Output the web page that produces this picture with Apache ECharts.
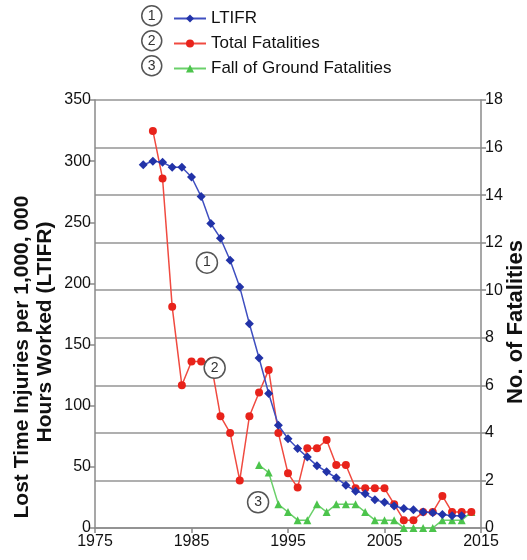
<!DOCTYPE html>
<html>
<head>
<meta charset="utf-8">
<script src="https://cdn.jsdelivr.net/npm/echarts@6/dist/echarts.min.js"></script>
<style>
  html, body { margin: 0; background: #fff; }
  #main { width: 527px; height: 560px; }
</style>
</head>
<body>
<div id="main"></div>
<script>
// LTIFR (left axis), 1980-2013
const ltifrYears = [1980, 1981, 1982, 1983, 1984, 1985, 1986, 1987, 1988, 1989, 1990, 1991, 1992, 1993, 1994, 1995, 1996,
  1997, 1998, 1999, 2000, 2001, 2002, 2003, 2004, 2005, 2006, 2007, 2008, 2009, 2010, 2011, 2012, 2013];
const ltifrValues = [297, 300, 299, 295, 295, 287, 271, 249, 237, 219, 197, 167, 139, 110, 84, 73, 65,
  58, 51, 46, 41, 35, 30, 28, 23, 21, 18, 16, 15, 13, 12.5, 11, 10, 10];

// Total fatalities (right axis), 1981-2014
const totalYears = [1981, 1982, 1983, 1984, 1985, 1986, 1987, 1988, 1989, 1990, 1991, 1992, 1993, 1994, 1995, 1996, 1997,
  1998, 1999, 2000, 2001, 2002, 2003, 2004, 2005, 2006, 2007, 2008, 2009, 2010, 2011, 2012, 2013, 2014];
const totalValues = [16.7, 14.7, 9.3, 6.0, 7.0, 7.0, 7.0, 4.7, 4.0, 2.0, 4.7, 5.7, 6.65, 4.0, 2.3, 1.7, 3.35,
  3.35, 3.7, 2.65, 2.65, 1.67, 1.67, 1.67, 1.67, 1.0, 0.33, 0.33, 0.67, 0.67, 1.35, 0.67, 0.67, 0.67];

// Fall of ground fatalities (right axis), 1992-2014
const fogYears = [1992, 1993, 1994, 1995, 1996, 1997, 1998, 1999, 2000, 2001, 2002, 2003, 2004, 2005, 2006, 2007,
  2008, 2009, 2010, 2011, 2012, 2013, 2014];
const fogValues = [2.65, 2.33, 1.0, 0.67, 0.33, 0.33, 1.0, 0.67, 1.0, 1.0, 1.0, 0.67, 0.33, 0.33, 0.33, 0,
  0, 0, 0, 0.33, 0.33, 0.33, 0.67];

// circled callouts inside the plot: [year, LTIFR value, label]
const callouts = [[1986.6, 217, '1'], [1987.4, 131, '2'], [1991.9, 21, '3']];

const seriesNames = ['LTIFR', 'Total Fatalities', 'Fall of Ground Fatalities'];
const leftTitle = ['Lost Time Injuries per 1,000, 000', 'Hours Worked (LTIFR)'];
const rightTitle = 'No. of Fatalities';

const pairs = (xs, ys) => xs.map((x, i) => [x, ys[i]]);

const chartDom = document.getElementById('main');
const myChart = echarts.init(chartDom);

const font = '"Liberation Sans", Arial, sans-serif';
const axisGrey = '#8a8a8a';

function circleMark(x, y, t) {
  return {
    type: 'group', left: x - 11, top: y - 11,
    children: [
      { type: 'circle', shape: { cx: 11, cy: 11, r: 10 }, style: { fill: '#fff', stroke: '#555', lineWidth: 1.5 } },
      { type: 'text', x: 11, y: 11, style: { text: t, fill: '#333', font: '14px ' + font, align: 'center', verticalAlign: 'middle' } }
    ]
  };
}

// rotated axis titles (read bottom to top on the left, top to bottom on the right)
function sideTitle(text, x, y, rot, size) {
  return {
    type: 'text', x: x, y: y, rotation: rot,
    style: {
      text: text, fill: '#111', font: 'bold ' + size + 'px ' + font,
      align: 'center', verticalAlign: 'middle'
    }
  };
}

const option = {
  animation: false,
  backgroundColor: '#fff',
  textStyle: { fontFamily: font },
  grid: { left: 95, right: 46, top: 100, bottom: 32, outerBoundsMode: 'none', containLabel: false },
  legend: {
    orient: 'vertical',
    left: 168, top: 5,
    itemWidth: 32, itemHeight: 10, itemGap: 8,
    textStyle: { fontSize: 17, color: '#111', fontFamily: font },
    data: seriesNames
  },
  graphic: [
    circleMark(152, 16, '1'), circleMark(152, 41, '2'), circleMark(152, 66, '3'),
    sideTitle(leftTitle[0], 22, 357, Math.PI / 2, 21),
    sideTitle(leftTitle[1], 45, 332, Math.PI / 2, 21),
    sideTitle(rightTitle, 516, 322, Math.PI / 2, 22)
  ],
  xAxis: {
    type: 'value', min: 1975, max: 2015, interval: 10,
    axisLine: { lineStyle: { color: axisGrey, width: 1.5 } },
    axisTick: { show: true, length: 5, lineStyle: { color: axisGrey, width: 1.5 } },
    axisLabel: { color: '#111', fontSize: 16, margin: 6, formatter: v => String(v) },
    splitLine: { show: false }
  },
  yAxis: [
    {
      type: 'value', min: 0, max: 350, interval: 50, position: 'left',
      axisLine: { show: true, lineStyle: { color: axisGrey, width: 1.5 } },
      axisTick: { show: true, length: 5, lineStyle: { color: axisGrey, width: 1.5 } },
      axisLabel: { color: '#111', fontSize: 16, margin: 4 },
      splitLine: { show: false }
    },
    {
      type: 'value', min: 0, max: 18, interval: 2, position: 'right',
      axisLine: { show: true, lineStyle: { color: axisGrey, width: 1.5 } },
      axisTick: { show: true, length: 5, lineStyle: { color: axisGrey, width: 1.5 } },
      axisLabel: { color: '#111', fontSize: 16, margin: 4 },
      splitLine: { show: true, lineStyle: { color: '#949494', width: 1.5 } }
    }
  ],
  series: [
    {
      name: seriesNames[0], type: 'line', yAxisIndex: 0,
      data: pairs(ltifrYears, ltifrValues),
      symbol: 'diamond', symbolSize: 9,
      lineStyle: { color: '#3f4fc0', width: 1.5 },
      itemStyle: { color: '#2233a8' },
      z: 4,
      markPoint: {
        symbol: 'circle', symbolSize: 21,
        itemStyle: { color: '#fff', borderColor: '#555', borderWidth: 1.5 },
        label: { show: true, color: '#333', fontSize: 14, formatter: p => p.name },
        data: callouts.map(c => ({ name: c[2], coord: [c[0], c[1]] }))
      }
    },
    {
      name: seriesNames[1], type: 'line', yAxisIndex: 1,
      data: pairs(totalYears, totalValues),
      symbol: 'circle', symbolSize: 8,
      lineStyle: { color: '#f04a40', width: 1.5 },
      itemStyle: { color: '#e8231b' },
      z: 3
    },
    {
      name: seriesNames[2], type: 'line', yAxisIndex: 1,
      data: pairs(fogYears, fogValues),
      symbol: 'triangle', symbolSize: 8,
      lineStyle: { color: '#6ad06a', width: 1.5 },
      itemStyle: { color: '#4cc44c' },
      z: 2
    }
  ]
};

option && myChart.setOption(option);
</script>
</body>
</html>
